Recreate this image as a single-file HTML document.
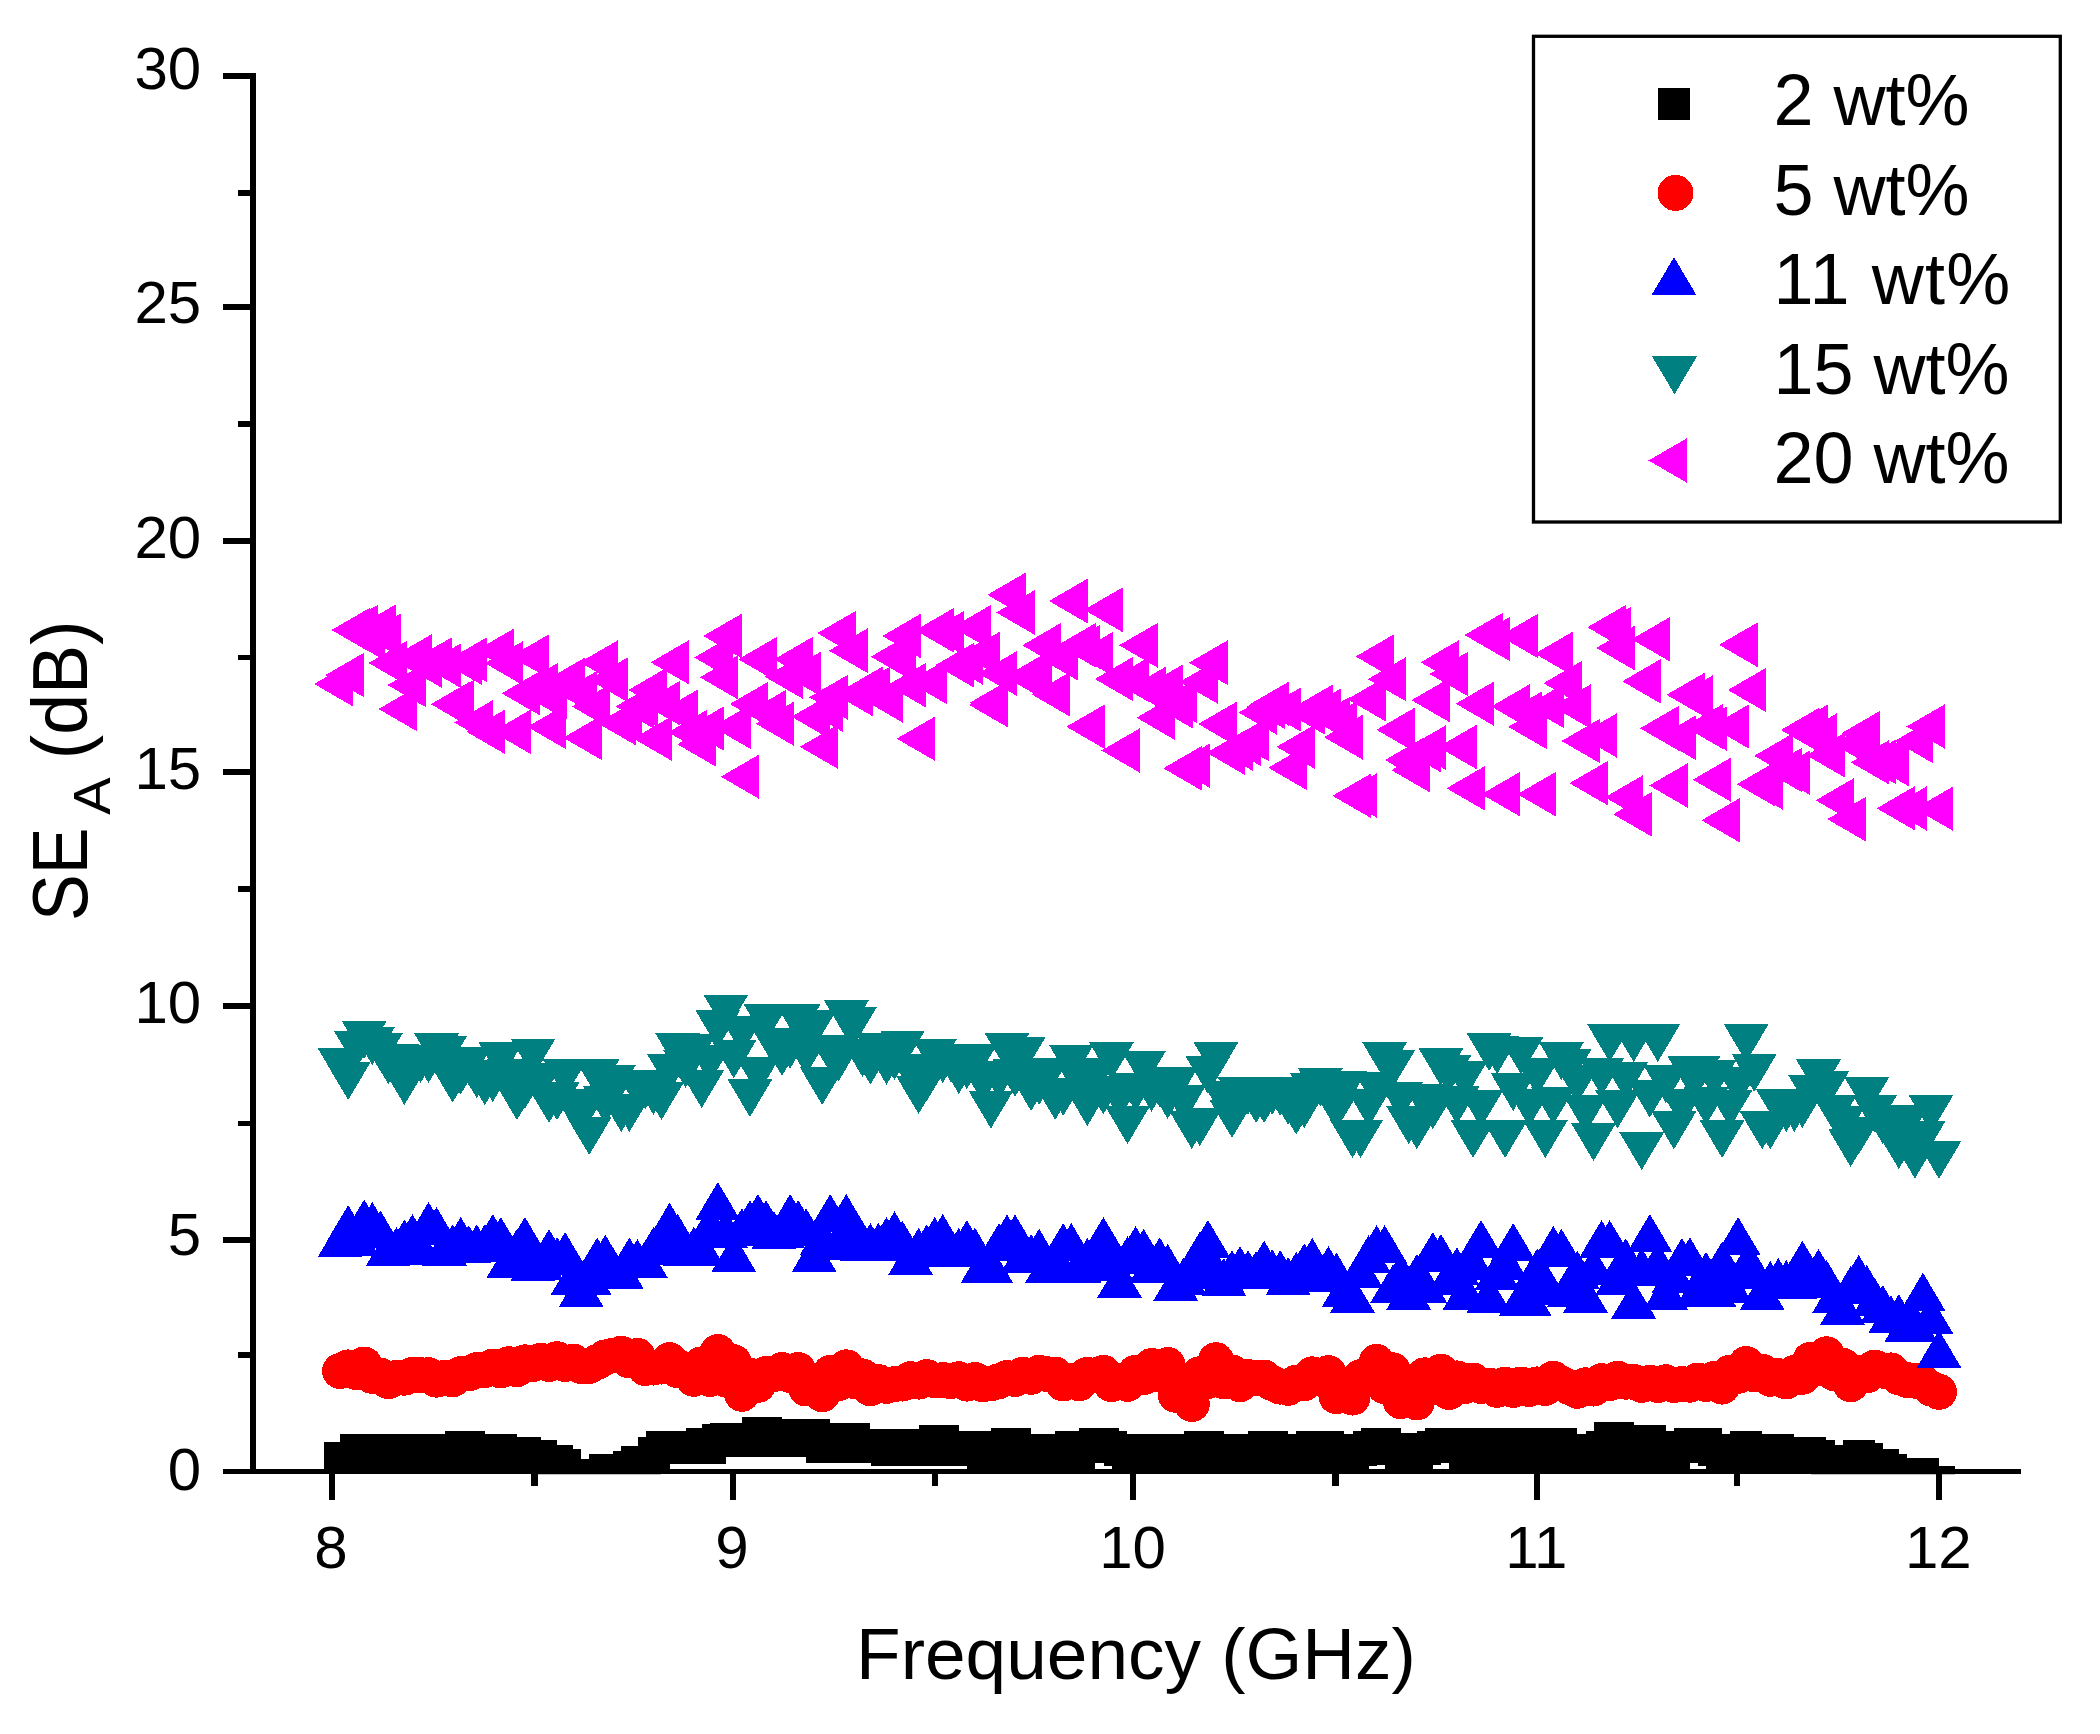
<!DOCTYPE html>
<html lang="en"><head><meta charset="utf-8"><title>SEA vs Frequency</title>
<style>
html,body{margin:0;padding:0;background:#fff}
body{width:2100px;height:1734px;overflow:hidden}
svg{display:block}
text{font-family:"Liberation Sans",Arial,sans-serif;fill:#000}
.tk{font-size:60px}
.lg{font-size:72px}
</style></head>
<body>
<svg width="2100" height="1734" viewBox="0 0 2100 1734">
<rect width="2100" height="1734" fill="#fff"/>
<g fill="#000" shape-rendering="crispEdges">
<rect x="250" y="73" width="6" height="1401.3"/>
<rect x="223.3" y="1468.6" width="1797.2" height="5.7"/>
<rect x="223.3" y="1237.2" width="27" height="5.7"/>
<rect x="223.3" y="1003" width="27" height="5.7"/>
<rect x="223.3" y="769.1" width="27" height="5.7"/>
<rect x="223.3" y="538.1" width="27" height="5.7"/>
<rect x="223.3" y="304" width="27" height="5.7"/>
<rect x="223.3" y="73.1" width="27" height="5.7"/>
<rect x="238" y="1352" width="12.5" height="5.7"/>
<rect x="238" y="1120.7" width="12.5" height="5.7"/>
<rect x="238" y="886.2" width="12.5" height="5.7"/>
<rect x="238" y="654.6" width="12.5" height="5.7"/>
<rect x="238" y="421.1" width="12.5" height="5.7"/>
<rect x="238" y="189.8" width="12.5" height="5.7"/>
<rect x="328.6" y="1474" width="6.2" height="25.8"/>
<rect x="729.6" y="1474" width="6.2" height="25.8"/>
<rect x="1130.2" y="1474" width="6.2" height="25.8"/>
<rect x="1533.9" y="1474" width="6.2" height="25.8"/>
<rect x="1935.9" y="1474" width="6.2" height="25.8"/>
<rect x="531.4" y="1474" width="6.2" height="11.5"/>
<rect x="931.9" y="1474" width="6.2" height="11.5"/>
<rect x="1332.4" y="1474" width="6.2" height="11.5"/>
<rect x="1733.9" y="1474" width="6.2" height="11.5"/>
</g>
<g class="tk" text-anchor="end">
<text x="201.2" y="1489.6">0</text>
<text x="201.2" y="1254.6">5</text>
<text x="201.2" y="1023.3">10</text>
<text x="201.2" y="788.9">15</text>
<text x="201.2" y="557.5">20</text>
<text x="201.2" y="323.2">25</text>
<text x="201.2" y="88.9">30</text>
</g>
<g class="tk" text-anchor="middle">
<text x="331" y="1567.8">8</text>
<text x="732" y="1567.8">9</text>
<text x="1132.6" y="1567.8">10</text>
<text x="1536.3" y="1567.8">11</text>
<text x="1938.3" y="1567.8">12</text>
</g>
<text x="1136" y="1678.8" font-size="73" text-anchor="middle">Frequency (GHz)</text>
<g transform="translate(86.7 921.1) rotate(-90)"><text transform="scale(.91 1)" x="0" y="0" font-size="77">SE</text><text transform="translate(106.4 23.5) scale(1.08 1)" font-size="52">A</text><text transform="translate(161.8 0) scale(.954 1)" font-size="77">(dB)</text></g>
<defs><clipPath id="plot"><rect x="256" y="60" width="1800" height="1414.3"/></clipPath></defs>
<g shape-rendering="crispEdges" clip-path="url(#plot)">
<path fill="#000" d="M324.1 1442.4h32v32h-32zM332.2 1442.4h32v32h-32zM340.2 1434h32v32h-32zM348.2 1434h32v32h-32zM356.3 1439h32v32h-32zM364.3 1434h32v32h-32zM372.3 1439h32v32h-32zM380.4 1434h32v32h-32zM388.4 1439h32v32h-32zM396.4 1434h32v32h-32zM404.5 1439h32v32h-32zM412.5 1434h32v32h-32zM420.5 1439h32v32h-32zM428.6 1434h32v32h-32zM436.6 1439h32v32h-32zM444.7 1430.6h32v32h-32zM452.7 1430.6h32v32h-32zM460.7 1433.6h32v32h-32zM468.8 1439h32v32h-32zM476.8 1433.6h32v32h-32zM484.8 1433.6h32v32h-32zM492.9 1436.6h32v32h-32zM500.9 1439h32v32h-32zM508.9 1436.6h32v32h-32zM517 1440h32v32h-32zM525 1440h32v32h-32zM533 1445h32v32h-32zM541.1 1445h32v32h-32zM549.1 1449h32v32h-32zM557.1 1459h32v32h-32zM565.2 1459h32v32h-32zM573.2 1459h32v32h-32zM581.2 1459h32v32h-32zM589.3 1454.4h32v32h-32zM597.3 1454.4h32v32h-32zM605.3 1454.4h32v32h-32zM613.4 1451h32v32h-32zM621.4 1445.6h32v32h-32zM629.4 1445.6h32v32h-32zM637.5 1437h32v32h-32zM645.5 1430.6h32v32h-32zM653.5 1430.6h32v32h-32zM661.6 1432h32v32h-32zM669.6 1430.6h32v32h-32zM677.7 1432h32v32h-32zM685.7 1428h32v32h-32zM693.7 1432h32v32h-32zM701.8 1424h32v32h-32zM709.8 1422.6h32v32h-32zM717.8 1422.6h32v32h-32zM725.9 1425h32v32h-32zM733.9 1422.6h32v32h-32zM741.9 1416.6h32v32h-32zM750 1416.6h32v32h-32zM758 1425h32v32h-32zM766 1419h32v32h-32zM774.1 1425h32v32h-32zM782.1 1419h32v32h-32zM790.1 1425h32v32h-32zM798.2 1419h32v32h-32zM806.2 1431h32v32h-32zM814.2 1422.6h32v32h-32zM822.3 1431h32v32h-32zM830.3 1422.6h32v32h-32zM838.3 1422.6h32v32h-32zM846.4 1429h32v32h-32zM854.4 1431h32v32h-32zM862.4 1429h32v32h-32zM870.5 1433.8h32v32h-32zM878.5 1429h32v32h-32zM886.5 1433.8h32v32h-32zM894.6 1429h32v32h-32zM902.6 1433.8h32v32h-32zM910.7 1429h32v32h-32zM918.7 1425h32v32h-32zM926.7 1425h32v32h-32zM934.8 1433.8h32v32h-32zM942.8 1430.6h32v32h-32zM950.8 1433.8h32v32h-32zM958.9 1430.6h32v32h-32zM966.9 1439h32v32h-32zM974.9 1430.6h32v32h-32zM983 1439h32v32h-32zM991 1428h32v32h-32zM999 1428h32v32h-32zM1007.1 1434h32v32h-32zM1015.1 1439h32v32h-32zM1023.1 1434h32v32h-32zM1031.2 1439h32v32h-32zM1039.2 1434h32v32h-32zM1047.2 1439h32v32h-32zM1055.3 1430.6h32v32h-32zM1063.3 1439h32v32h-32zM1071.3 1430.6h32v32h-32zM1079.4 1428h32v32h-32zM1087.4 1428h32v32h-32zM1095.4 1430.6h32v32h-32zM1103.5 1434h32v32h-32zM1111.5 1439h32v32h-32zM1119.6 1434h32v32h-32zM1127.6 1439h32v32h-32zM1135.6 1434h32v32h-32zM1143.7 1439h32v32h-32zM1151.7 1434h32v32h-32zM1159.7 1439h32v32h-32zM1167.8 1434h32v32h-32zM1175.8 1439h32v32h-32zM1183.8 1430.6h32v32h-32zM1191.9 1430.6h32v32h-32zM1199.9 1434h32v32h-32zM1207.9 1439h32v32h-32zM1216 1434h32v32h-32zM1224 1439h32v32h-32zM1232 1434h32v32h-32zM1240.1 1439h32v32h-32zM1248.1 1430.6h32v32h-32zM1256.1 1430.6h32v32h-32zM1264.2 1434h32v32h-32zM1272.2 1439h32v32h-32zM1280.2 1434h32v32h-32zM1288.3 1439h32v32h-32zM1296.3 1430.6h32v32h-32zM1304.3 1439h32v32h-32zM1312.4 1430.6h32v32h-32zM1320.4 1439h32v32h-32zM1328.4 1433.6h32v32h-32zM1336.5 1439h32v32h-32zM1344.5 1433.6h32v32h-32zM1352.6 1430.6h32v32h-32zM1360.6 1428h32v32h-32zM1368.6 1428h32v32h-32zM1376.7 1433h32v32h-32zM1384.7 1439h32v32h-32zM1392.7 1433h32v32h-32zM1400.8 1439h32v32h-32zM1408.8 1433h32v32h-32zM1416.8 1430.6h32v32h-32zM1424.9 1428h32v32h-32zM1432.9 1428h32v32h-32zM1440.9 1430.6h32v32h-32zM1449 1439h32v32h-32zM1457 1430.6h32v32h-32zM1465 1428h32v32h-32zM1473.1 1428h32v32h-32zM1481.1 1439h32v32h-32zM1489.1 1428h32v32h-32zM1497.2 1439h32v32h-32zM1505.2 1428h32v32h-32zM1513.2 1439h32v32h-32zM1521.3 1428h32v32h-32zM1529.3 1439h32v32h-32zM1537.3 1428h32v32h-32zM1545.4 1428h32v32h-32zM1553.4 1434h32v32h-32zM1561.4 1439h32v32h-32zM1569.5 1434h32v32h-32zM1577.5 1439h32v32h-32zM1585.6 1430.6h32v32h-32zM1593.6 1422.4h32v32h-32zM1601.6 1422.4h32v32h-32zM1609.7 1439h32v32h-32zM1617.7 1430h32v32h-32zM1625.7 1425h32v32h-32zM1633.8 1425h32v32h-32zM1641.8 1439h32v32h-32zM1649.8 1430.6h32v32h-32zM1657.9 1439h32v32h-32zM1665.9 1430.6h32v32h-32zM1673.9 1428h32v32h-32zM1682 1428h32v32h-32zM1690 1428h32v32h-32zM1698 1434h32v32h-32zM1706.1 1439h32v32h-32zM1714.1 1434h32v32h-32zM1722.1 1439h32v32h-32zM1730.2 1430.6h32v32h-32zM1738.2 1439h32v32h-32zM1746.2 1434h32v32h-32zM1754.3 1439h32v32h-32zM1762.3 1434h32v32h-32zM1770.3 1439h32v32h-32zM1778.4 1437h32v32h-32zM1786.4 1439h32v32h-32zM1794.4 1437h32v32h-32zM1802.5 1440h32v32h-32zM1810.5 1445h32v32h-32zM1818.6 1445h32v32h-32zM1826.6 1445h32v32h-32zM1834.6 1445h32v32h-32zM1842.7 1439.8h32v32h-32zM1850.7 1442.6h32v32h-32zM1858.7 1449h32v32h-32zM1866.8 1449h32v32h-32zM1874.8 1454h32v32h-32zM1882.8 1457.5h32v32h-32zM1890.9 1457.5h32v32h-32zM1898.9 1457.5h32v32h-32zM1906.9 1457.5h32v32h-32zM1915 1466h32v32h-32zM1923 1466h32v32h-32z"/>
<path fill="#f00" d="M322.1 1371a18 18 0 1 0 36 0a18 18 0 1 0 -36 0zM330.2 1367.4a18 18 0 1 0 36 0a18 18 0 1 0 -36 0zM338.2 1372.2a18 18 0 1 0 36 0a18 18 0 1 0 -36 0zM346.2 1364.5a18 18 0 1 0 36 0a18 18 0 1 0 -36 0zM354.3 1375.9a18 18 0 1 0 36 0a18 18 0 1 0 -36 0zM362.3 1375.5a18 18 0 1 0 36 0a18 18 0 1 0 -36 0zM370.3 1381.2a18 18 0 1 0 36 0a18 18 0 1 0 -36 0zM378.4 1377.9a18 18 0 1 0 36 0a18 18 0 1 0 -36 0zM386.4 1377.7a18 18 0 1 0 36 0a18 18 0 1 0 -36 0zM394.4 1374.9a18 18 0 1 0 36 0a18 18 0 1 0 -36 0zM402.5 1375.2a18 18 0 1 0 36 0a18 18 0 1 0 -36 0zM410.5 1375.1a18 18 0 1 0 36 0a18 18 0 1 0 -36 0zM418.5 1379.7a18 18 0 1 0 36 0a18 18 0 1 0 -36 0zM426.6 1377.9a18 18 0 1 0 36 0a18 18 0 1 0 -36 0zM434.6 1379.4a18 18 0 1 0 36 0a18 18 0 1 0 -36 0zM442.7 1374.1a18 18 0 1 0 36 0a18 18 0 1 0 -36 0zM450.7 1373.5a18 18 0 1 0 36 0a18 18 0 1 0 -36 0zM458.7 1370a18 18 0 1 0 36 0a18 18 0 1 0 -36 0zM466.8 1370.1a18 18 0 1 0 36 0a18 18 0 1 0 -36 0zM474.8 1366.5a18 18 0 1 0 36 0a18 18 0 1 0 -36 0zM482.8 1370.5a18 18 0 1 0 36 0a18 18 0 1 0 -36 0zM490.9 1364.2a18 18 0 1 0 36 0a18 18 0 1 0 -36 0zM498.9 1369.2a18 18 0 1 0 36 0a18 18 0 1 0 -36 0zM506.9 1362.3a18 18 0 1 0 36 0a18 18 0 1 0 -36 0zM515 1364a18 18 0 1 0 36 0a18 18 0 1 0 -36 0zM523 1360.7a18 18 0 1 0 36 0a18 18 0 1 0 -36 0zM531 1364a18 18 0 1 0 36 0a18 18 0 1 0 -36 0zM539.1 1359.2a18 18 0 1 0 36 0a18 18 0 1 0 -36 0zM547.1 1364a18 18 0 1 0 36 0a18 18 0 1 0 -36 0zM555.1 1361.6a18 18 0 1 0 36 0a18 18 0 1 0 -36 0zM563.2 1366a18 18 0 1 0 36 0a18 18 0 1 0 -36 0zM571.2 1366a18 18 0 1 0 36 0a18 18 0 1 0 -36 0zM579.2 1362a18 18 0 1 0 36 0a18 18 0 1 0 -36 0zM587.3 1357.4a18 18 0 1 0 36 0a18 18 0 1 0 -36 0zM595.3 1355.5a18 18 0 1 0 36 0a18 18 0 1 0 -36 0zM603.3 1353.7a18 18 0 1 0 36 0a18 18 0 1 0 -36 0zM611.4 1360.5a18 18 0 1 0 36 0a18 18 0 1 0 -36 0zM619.4 1355.9a18 18 0 1 0 36 0a18 18 0 1 0 -36 0zM627.4 1368a18 18 0 1 0 36 0a18 18 0 1 0 -36 0zM635.5 1367.5a18 18 0 1 0 36 0a18 18 0 1 0 -36 0zM643.5 1366.6a18 18 0 1 0 36 0a18 18 0 1 0 -36 0zM651.5 1360.1a18 18 0 1 0 36 0a18 18 0 1 0 -36 0zM659.6 1370.1a18 18 0 1 0 36 0a18 18 0 1 0 -36 0zM667.6 1369.4a18 18 0 1 0 36 0a18 18 0 1 0 -36 0zM675.7 1378.8a18 18 0 1 0 36 0a18 18 0 1 0 -36 0zM683.7 1364.3a18 18 0 1 0 36 0a18 18 0 1 0 -36 0zM691.7 1379a18 18 0 1 0 36 0a18 18 0 1 0 -36 0zM699.8 1352a18 18 0 1 0 36 0a18 18 0 1 0 -36 0zM707.8 1379.5a18 18 0 1 0 36 0a18 18 0 1 0 -36 0zM715.8 1362.2a18 18 0 1 0 36 0a18 18 0 1 0 -36 0zM723.9 1393.8a18 18 0 1 0 36 0a18 18 0 1 0 -36 0zM731.9 1375.8a18 18 0 1 0 36 0a18 18 0 1 0 -36 0zM739.9 1384.9a18 18 0 1 0 36 0a18 18 0 1 0 -36 0zM748 1374a18 18 0 1 0 36 0a18 18 0 1 0 -36 0zM756 1374a18 18 0 1 0 36 0a18 18 0 1 0 -36 0zM764 1370.1a18 18 0 1 0 36 0a18 18 0 1 0 -36 0zM772.1 1374.9a18 18 0 1 0 36 0a18 18 0 1 0 -36 0zM780.1 1370.1a18 18 0 1 0 36 0a18 18 0 1 0 -36 0zM788.1 1388.5a18 18 0 1 0 36 0a18 18 0 1 0 -36 0zM796.2 1385.3a18 18 0 1 0 36 0a18 18 0 1 0 -36 0zM804.2 1394.3a18 18 0 1 0 36 0a18 18 0 1 0 -36 0zM812.2 1373.1a18 18 0 1 0 36 0a18 18 0 1 0 -36 0zM820.3 1383.3a18 18 0 1 0 36 0a18 18 0 1 0 -36 0zM828.3 1367.3a18 18 0 1 0 36 0a18 18 0 1 0 -36 0zM836.3 1381.2a18 18 0 1 0 36 0a18 18 0 1 0 -36 0zM844.4 1376.4a18 18 0 1 0 36 0a18 18 0 1 0 -36 0zM852.4 1388.3a18 18 0 1 0 36 0a18 18 0 1 0 -36 0zM860.4 1382a18 18 0 1 0 36 0a18 18 0 1 0 -36 0zM868.5 1385.9a18 18 0 1 0 36 0a18 18 0 1 0 -36 0zM876.5 1384.1a18 18 0 1 0 36 0a18 18 0 1 0 -36 0zM884.5 1383.6a18 18 0 1 0 36 0a18 18 0 1 0 -36 0zM892.6 1379.2a18 18 0 1 0 36 0a18 18 0 1 0 -36 0zM900.6 1381.6a18 18 0 1 0 36 0a18 18 0 1 0 -36 0zM908.7 1377.1a18 18 0 1 0 36 0a18 18 0 1 0 -36 0zM916.7 1380.3a18 18 0 1 0 36 0a18 18 0 1 0 -36 0zM924.7 1380a18 18 0 1 0 36 0a18 18 0 1 0 -36 0zM932.8 1381.1a18 18 0 1 0 36 0a18 18 0 1 0 -36 0zM940.8 1379.2a18 18 0 1 0 36 0a18 18 0 1 0 -36 0zM948.8 1383.6a18 18 0 1 0 36 0a18 18 0 1 0 -36 0zM956.9 1379.9a18 18 0 1 0 36 0a18 18 0 1 0 -36 0zM964.9 1384.2a18 18 0 1 0 36 0a18 18 0 1 0 -36 0zM972.9 1383.4a18 18 0 1 0 36 0a18 18 0 1 0 -36 0zM981 1381.2a18 18 0 1 0 36 0a18 18 0 1 0 -36 0zM989 1378a18 18 0 1 0 36 0a18 18 0 1 0 -36 0zM997 1378.9a18 18 0 1 0 36 0a18 18 0 1 0 -36 0zM1005.1 1374.6a18 18 0 1 0 36 0a18 18 0 1 0 -36 0zM1013.1 1376.8a18 18 0 1 0 36 0a18 18 0 1 0 -36 0zM1021.1 1372.8a18 18 0 1 0 36 0a18 18 0 1 0 -36 0zM1029.2 1374.2a18 18 0 1 0 36 0a18 18 0 1 0 -36 0zM1037.2 1374.6a18 18 0 1 0 36 0a18 18 0 1 0 -36 0zM1045.2 1383.5a18 18 0 1 0 36 0a18 18 0 1 0 -36 0zM1053.3 1380.6a18 18 0 1 0 36 0a18 18 0 1 0 -36 0zM1061.3 1383.3a18 18 0 1 0 36 0a18 18 0 1 0 -36 0zM1069.3 1374.8a18 18 0 1 0 36 0a18 18 0 1 0 -36 0zM1077.4 1375.3a18 18 0 1 0 36 0a18 18 0 1 0 -36 0zM1085.4 1372.9a18 18 0 1 0 36 0a18 18 0 1 0 -36 0zM1093.4 1384.2a18 18 0 1 0 36 0a18 18 0 1 0 -36 0zM1101.5 1380.7a18 18 0 1 0 36 0a18 18 0 1 0 -36 0zM1109.5 1383.9a18 18 0 1 0 36 0a18 18 0 1 0 -36 0zM1117.6 1372.7a18 18 0 1 0 36 0a18 18 0 1 0 -36 0zM1125.6 1377.2a18 18 0 1 0 36 0a18 18 0 1 0 -36 0zM1133.6 1366a18 18 0 1 0 36 0a18 18 0 1 0 -36 0zM1141.7 1374.4a18 18 0 1 0 36 0a18 18 0 1 0 -36 0zM1149.7 1365a18 18 0 1 0 36 0a18 18 0 1 0 -36 0zM1157.7 1394.8a18 18 0 1 0 36 0a18 18 0 1 0 -36 0zM1165.8 1384.7a18 18 0 1 0 36 0a18 18 0 1 0 -36 0zM1173.8 1404a18 18 0 1 0 36 0a18 18 0 1 0 -36 0zM1181.8 1374.2a18 18 0 1 0 36 0a18 18 0 1 0 -36 0zM1189.9 1381a18 18 0 1 0 36 0a18 18 0 1 0 -36 0zM1197.9 1360.2a18 18 0 1 0 36 0a18 18 0 1 0 -36 0zM1205.9 1381.2a18 18 0 1 0 36 0a18 18 0 1 0 -36 0zM1214 1372.5a18 18 0 1 0 36 0a18 18 0 1 0 -36 0zM1222 1384.2a18 18 0 1 0 36 0a18 18 0 1 0 -36 0zM1230 1377a18 18 0 1 0 36 0a18 18 0 1 0 -36 0zM1238.1 1378a18 18 0 1 0 36 0a18 18 0 1 0 -36 0zM1246.1 1377.5a18 18 0 1 0 36 0a18 18 0 1 0 -36 0zM1254.1 1383.1a18 18 0 1 0 36 0a18 18 0 1 0 -36 0zM1262.2 1386.6a18 18 0 1 0 36 0a18 18 0 1 0 -36 0zM1270.2 1387.8a18 18 0 1 0 36 0a18 18 0 1 0 -36 0zM1278.2 1382.7a18 18 0 1 0 36 0a18 18 0 1 0 -36 0zM1286.3 1383.1a18 18 0 1 0 36 0a18 18 0 1 0 -36 0zM1294.3 1374.3a18 18 0 1 0 36 0a18 18 0 1 0 -36 0zM1302.3 1378a18 18 0 1 0 36 0a18 18 0 1 0 -36 0zM1310.4 1373.1a18 18 0 1 0 36 0a18 18 0 1 0 -36 0zM1318.4 1396.2a18 18 0 1 0 36 0a18 18 0 1 0 -36 0zM1326.4 1384.8a18 18 0 1 0 36 0a18 18 0 1 0 -36 0zM1334.5 1397.6a18 18 0 1 0 36 0a18 18 0 1 0 -36 0zM1342.5 1377.1a18 18 0 1 0 36 0a18 18 0 1 0 -36 0zM1350.6 1379a18 18 0 1 0 36 0a18 18 0 1 0 -36 0zM1358.6 1361.9a18 18 0 1 0 36 0a18 18 0 1 0 -36 0zM1366.6 1386.3a18 18 0 1 0 36 0a18 18 0 1 0 -36 0zM1374.7 1370.3a18 18 0 1 0 36 0a18 18 0 1 0 -36 0zM1382.7 1401.1a18 18 0 1 0 36 0a18 18 0 1 0 -36 0zM1390.7 1386.6a18 18 0 1 0 36 0a18 18 0 1 0 -36 0zM1398.8 1402.4a18 18 0 1 0 36 0a18 18 0 1 0 -36 0zM1406.8 1375.3a18 18 0 1 0 36 0a18 18 0 1 0 -36 0zM1414.8 1387.2a18 18 0 1 0 36 0a18 18 0 1 0 -36 0zM1422.9 1371.7a18 18 0 1 0 36 0a18 18 0 1 0 -36 0zM1430.9 1392.1a18 18 0 1 0 36 0a18 18 0 1 0 -36 0zM1438.9 1378.4a18 18 0 1 0 36 0a18 18 0 1 0 -36 0zM1447 1385.9a18 18 0 1 0 36 0a18 18 0 1 0 -36 0zM1455 1380.5a18 18 0 1 0 36 0a18 18 0 1 0 -36 0zM1463 1386.1a18 18 0 1 0 36 0a18 18 0 1 0 -36 0zM1471.1 1385.5a18 18 0 1 0 36 0a18 18 0 1 0 -36 0zM1479.1 1389.8a18 18 0 1 0 36 0a18 18 0 1 0 -36 0zM1487.1 1384.6a18 18 0 1 0 36 0a18 18 0 1 0 -36 0zM1495.2 1389.9a18 18 0 1 0 36 0a18 18 0 1 0 -36 0zM1503.2 1384.5a18 18 0 1 0 36 0a18 18 0 1 0 -36 0zM1511.2 1389a18 18 0 1 0 36 0a18 18 0 1 0 -36 0zM1519.3 1384.4a18 18 0 1 0 36 0a18 18 0 1 0 -36 0zM1527.3 1388a18 18 0 1 0 36 0a18 18 0 1 0 -36 0zM1535.3 1378.7a18 18 0 1 0 36 0a18 18 0 1 0 -36 0zM1543.4 1383.6a18 18 0 1 0 36 0a18 18 0 1 0 -36 0zM1551.4 1387.2a18 18 0 1 0 36 0a18 18 0 1 0 -36 0zM1559.4 1390.8a18 18 0 1 0 36 0a18 18 0 1 0 -36 0zM1567.5 1385.3a18 18 0 1 0 36 0a18 18 0 1 0 -36 0zM1575.5 1388.5a18 18 0 1 0 36 0a18 18 0 1 0 -36 0zM1583.6 1381.1a18 18 0 1 0 36 0a18 18 0 1 0 -36 0zM1591.6 1383.1a18 18 0 1 0 36 0a18 18 0 1 0 -36 0zM1599.6 1378.7a18 18 0 1 0 36 0a18 18 0 1 0 -36 0zM1607.7 1381.7a18 18 0 1 0 36 0a18 18 0 1 0 -36 0zM1615.7 1381.9a18 18 0 1 0 36 0a18 18 0 1 0 -36 0zM1623.7 1384.9a18 18 0 1 0 36 0a18 18 0 1 0 -36 0zM1631.8 1382.7a18 18 0 1 0 36 0a18 18 0 1 0 -36 0zM1639.8 1385a18 18 0 1 0 36 0a18 18 0 1 0 -36 0zM1647.8 1382.2a18 18 0 1 0 36 0a18 18 0 1 0 -36 0zM1655.9 1385a18 18 0 1 0 36 0a18 18 0 1 0 -36 0zM1663.9 1384a18 18 0 1 0 36 0a18 18 0 1 0 -36 0zM1671.9 1384.7a18 18 0 1 0 36 0a18 18 0 1 0 -36 0zM1680 1380.5a18 18 0 1 0 36 0a18 18 0 1 0 -36 0zM1688 1384a18 18 0 1 0 36 0a18 18 0 1 0 -36 0zM1696 1379a18 18 0 1 0 36 0a18 18 0 1 0 -36 0zM1704.1 1386.6a18 18 0 1 0 36 0a18 18 0 1 0 -36 0zM1712.1 1372.6a18 18 0 1 0 36 0a18 18 0 1 0 -36 0zM1720.1 1375.8a18 18 0 1 0 36 0a18 18 0 1 0 -36 0zM1728.2 1364.1a18 18 0 1 0 36 0a18 18 0 1 0 -36 0zM1736.2 1374.5a18 18 0 1 0 36 0a18 18 0 1 0 -36 0zM1744.2 1371.8a18 18 0 1 0 36 0a18 18 0 1 0 -36 0zM1752.3 1378.8a18 18 0 1 0 36 0a18 18 0 1 0 -36 0zM1760.3 1376a18 18 0 1 0 36 0a18 18 0 1 0 -36 0zM1768.3 1381.5a18 18 0 1 0 36 0a18 18 0 1 0 -36 0zM1776.4 1372.9a18 18 0 1 0 36 0a18 18 0 1 0 -36 0zM1784.4 1376.8a18 18 0 1 0 36 0a18 18 0 1 0 -36 0zM1792.4 1359.8a18 18 0 1 0 36 0a18 18 0 1 0 -36 0zM1800.5 1367.9a18 18 0 1 0 36 0a18 18 0 1 0 -36 0zM1808.5 1354.3a18 18 0 1 0 36 0a18 18 0 1 0 -36 0zM1816.6 1373.5a18 18 0 1 0 36 0a18 18 0 1 0 -36 0zM1824.6 1365.7a18 18 0 1 0 36 0a18 18 0 1 0 -36 0zM1832.6 1384.3a18 18 0 1 0 36 0a18 18 0 1 0 -36 0zM1840.7 1373a18 18 0 1 0 36 0a18 18 0 1 0 -36 0zM1848.7 1375.5a18 18 0 1 0 36 0a18 18 0 1 0 -36 0zM1856.7 1367.5a18 18 0 1 0 36 0a18 18 0 1 0 -36 0zM1864.8 1370.7a18 18 0 1 0 36 0a18 18 0 1 0 -36 0zM1872.8 1370.4a18 18 0 1 0 36 0a18 18 0 1 0 -36 0zM1880.8 1377.2a18 18 0 1 0 36 0a18 18 0 1 0 -36 0zM1888.9 1380.1a18 18 0 1 0 36 0a18 18 0 1 0 -36 0zM1896.9 1380.7a18 18 0 1 0 36 0a18 18 0 1 0 -36 0zM1904.9 1382.7a18 18 0 1 0 36 0a18 18 0 1 0 -36 0zM1913 1388.5a18 18 0 1 0 36 0a18 18 0 1 0 -36 0zM1921 1391.8a18 18 0 1 0 36 0a18 18 0 1 0 -36 0z"/>
<path fill="#00f" d="M340.1 1219.4l22.5 38h-45zM348.2 1205l22.5 38h-45zM356.2 1217.5l22.5 38h-45zM364.2 1199.4l22.5 38h-45zM372.3 1202l22.5 38h-45zM380.3 1210.4l22.5 38h-45zM388.3 1228l22.5 38h-45zM396.4 1227l22.5 38h-45zM404.4 1219.5l22.5 38h-45zM412.4 1214l22.5 38h-45zM420.5 1227l22.5 38h-45zM428.5 1202l22.5 38h-45zM436.5 1207l22.5 38h-45zM444.6 1228l22.5 38h-45zM452.6 1224.4l22.5 38h-45zM460.7 1217l22.5 38h-45zM468.7 1225.4l22.5 38h-45zM476.7 1224.4l22.5 38h-45zM484.8 1224.1l22.5 38h-45zM492.8 1214l22.5 38h-45zM500.8 1217l22.5 38h-45zM508.9 1240l22.5 38h-45zM516.9 1229l22.5 38h-45zM524.9 1217l22.5 38h-45zM533 1243l22.5 38h-45zM541 1242l22.5 38h-45zM549 1229l22.5 38h-45zM557.1 1236.9l22.5 38h-45zM565.1 1232l22.5 38h-45zM573.1 1257l22.5 38h-45zM581.2 1269l22.5 38h-45zM589.2 1257l22.5 38h-45zM597.2 1237.4l22.5 38h-45zM605.3 1234.7l22.5 38h-45zM613.3 1247.8l22.5 38h-45zM621.3 1251l22.5 38h-45zM629.4 1237.4l22.5 38h-45zM637.4 1239l22.5 38h-45zM645.4 1240l22.5 38h-45zM653.5 1227l22.5 38h-45zM661.5 1216.6l22.5 38h-45zM669.5 1202.7l22.5 38h-45zM677.6 1213.9l22.5 38h-45zM685.6 1228l22.5 38h-45zM693.7 1227l22.5 38h-45zM701.7 1228l22.5 38h-45zM709.7 1205.4l22.5 38h-45zM717.8 1182l22.5 38h-45zM725.8 1210.4l22.5 38h-45zM733.8 1234l22.5 38h-45zM741.9 1208.3l22.5 38h-45zM749.9 1200.2l22.5 38h-45zM757.9 1194l22.5 38h-45zM766 1200l22.5 38h-45zM774 1211l22.5 38h-45zM782 1210l22.5 38h-45zM790.1 1194l22.5 38h-45zM798.1 1200l22.5 38h-45zM806.1 1208.2l22.5 38h-45zM814.2 1234l22.5 38h-45zM822.2 1217l22.5 38h-45zM830.2 1194l22.5 38h-45zM838.3 1221.7l22.5 38h-45zM846.3 1194l22.5 38h-45zM854.3 1215.1l22.5 38h-45zM862.4 1222.7l22.5 38h-45zM870.4 1223l22.5 38h-45zM878.4 1222.7l22.5 38h-45zM886.5 1217l22.5 38h-45zM894.5 1211.4l22.5 38h-45zM902.5 1220.8l22.5 38h-45zM910.6 1237l22.5 38h-45zM918.6 1227.7l22.5 38h-45zM926.7 1224.4l22.5 38h-45zM934.7 1217l22.5 38h-45zM942.7 1214l22.5 38h-45zM950.8 1228.7l22.5 38h-45zM958.8 1227.7l22.5 38h-45zM966.8 1220l22.5 38h-45zM974.9 1227.7l22.5 38h-45zM982.9 1245.4l22.5 38h-45zM990.9 1245.4l22.5 38h-45zM999 1223l22.5 38h-45zM1007 1214.4l22.5 38h-45zM1015 1214.4l22.5 38h-45zM1023.1 1235l22.5 38h-45zM1031.1 1234l22.5 38h-45zM1039.1 1228.7l22.5 38h-45zM1047.2 1245.4l22.5 38h-45zM1055.2 1238.6l22.5 38h-45zM1063.2 1223l22.5 38h-45zM1071.3 1223l22.5 38h-45zM1079.3 1245.4l22.5 38h-45zM1087.3 1237.8l22.5 38h-45zM1095.4 1233.9l22.5 38h-45zM1103.4 1217l22.5 38h-45zM1111.4 1243.4l22.5 38h-45zM1119.5 1260l22.5 38h-45zM1127.5 1236.3l22.5 38h-45zM1135.6 1226l22.5 38h-45zM1143.6 1228.7l22.5 38h-45zM1151.6 1245l22.5 38h-45zM1159.7 1237.4l22.5 38h-45zM1167.7 1244l22.5 38h-45zM1175.7 1263l22.5 38h-45zM1183.8 1257l22.5 38h-45zM1191.8 1245.7l22.5 38h-45zM1199.8 1231.7l22.5 38h-45zM1207.9 1220l22.5 38h-45zM1215.9 1251.2l22.5 38h-45zM1223.9 1258l22.5 38h-45zM1232 1250l22.5 38h-45zM1240 1246l22.5 38h-45zM1248 1250l22.5 38h-45zM1256.1 1251l22.5 38h-45zM1264.1 1240.7l22.5 38h-45zM1272.1 1249l22.5 38h-45zM1280.2 1250l22.5 38h-45zM1288.2 1257l22.5 38h-45zM1296.2 1251.7l22.5 38h-45zM1304.3 1243.4l22.5 38h-45zM1312.3 1238l22.5 38h-45zM1320.3 1254l22.5 38h-45zM1328.4 1246l22.5 38h-45zM1336.4 1252.5l22.5 38h-45zM1344.4 1268.7l22.5 38h-45zM1352.5 1275l22.5 38h-45zM1360.5 1249.9l22.5 38h-45zM1368.6 1235.2l22.5 38h-45zM1376.6 1225l22.5 38h-45zM1384.6 1225l22.5 38h-45zM1392.7 1265l22.5 38h-45zM1400.7 1253.2l22.5 38h-45zM1408.7 1272l22.5 38h-45zM1416.8 1254l22.5 38h-45zM1424.8 1265l22.5 38h-45zM1432.8 1232l22.5 38h-45zM1440.9 1234l22.5 38h-45zM1448.9 1257.2l22.5 38h-45zM1456.9 1247.3l22.5 38h-45zM1465 1272l22.5 38h-45zM1473 1242.4l22.5 38h-45zM1481 1220l22.5 38h-45zM1489.1 1275l22.5 38h-45zM1497.1 1251.8l22.5 38h-45zM1505.1 1241.5l22.5 38h-45zM1513.2 1223l22.5 38h-45zM1521.2 1278l22.5 38h-45zM1529.2 1278l22.5 38h-45zM1537.3 1248.3l22.5 38h-45zM1545.3 1267l22.5 38h-45zM1553.3 1226l22.5 38h-45zM1561.4 1228.7l22.5 38h-45zM1569.4 1269l22.5 38h-45zM1577.4 1250.9l22.5 38h-45zM1585.5 1275l22.5 38h-45zM1593.5 1247.1l22.5 38h-45zM1601.6 1220l22.5 38h-45zM1609.6 1220l22.5 38h-45zM1617.6 1257.3l22.5 38h-45zM1625.7 1238.4l22.5 38h-45zM1633.7 1280.7l22.5 38h-45zM1641.7 1248l22.5 38h-45zM1649.8 1214l22.5 38h-45zM1657.8 1242.4l22.5 38h-45zM1665.8 1272l22.5 38h-45zM1673.9 1255.2l22.5 38h-45zM1681.9 1238l22.5 38h-45zM1689.9 1237.4l22.5 38h-45zM1698 1269l22.5 38h-45zM1706 1251.7l22.5 38h-45zM1714 1269l22.5 38h-45zM1722.1 1241.5l22.5 38h-45zM1730.1 1265.1l22.5 38h-45zM1738.1 1217l22.5 38h-45zM1746.2 1245.4l22.5 38h-45zM1754.2 1251.1l22.5 38h-45zM1762.2 1272l22.5 38h-45zM1770.3 1261l22.5 38h-45zM1778.3 1258l22.5 38h-45zM1786.3 1260l22.5 38h-45zM1794.4 1261l22.5 38h-45zM1802.4 1240.7l22.5 38h-45zM1810.4 1260l22.5 38h-45zM1818.5 1249l22.5 38h-45zM1826.5 1260l22.5 38h-45zM1834.6 1275l22.5 38h-45zM1842.6 1286.7l22.5 38h-45zM1850.6 1266.2l22.5 38h-45zM1858.7 1255l22.5 38h-45zM1866.7 1265l22.5 38h-45zM1874.7 1278l22.5 38h-45zM1882.8 1285.2l22.5 38h-45zM1890.8 1295l22.5 38h-45zM1898.8 1294l22.5 38h-45zM1906.9 1304l22.5 38h-45zM1914.9 1304l22.5 38h-45zM1922.9 1272.7l22.5 38h-45zM1931 1296.1l22.5 38h-45zM1939 1330l22.5 38h-45z"/>
<path fill="#008080" d="M340.1 1086l-22.5 -38h45zM348.2 1100l-22.5 -38h45zM356.2 1068.6l-22.5 -38h45zM364.2 1059l-22.5 -38h45zM372.3 1065l-22.5 -38h45zM380.3 1071l-22.5 -38h45zM388.3 1084.2l-22.5 -38h45zM396.4 1082l-22.5 -38h45zM404.4 1105l-22.5 -38h45zM412.4 1083.9l-22.5 -38h45zM420.5 1083l-22.5 -38h45zM428.5 1083l-22.5 -38h45zM436.5 1071l-22.5 -38h45zM444.6 1074l-22.5 -38h45zM452.6 1102.6l-22.5 -38h45zM460.7 1094.5l-22.5 -38h45zM468.7 1085.3l-22.5 -38h45zM476.7 1098.1l-22.5 -38h45zM484.8 1105.3l-22.5 -38h45zM492.8 1102l-22.5 -38h45zM500.8 1080l-22.5 -38h45zM508.9 1096.6l-22.5 -38h45zM516.9 1120l-22.5 -38h45zM524.9 1108.9l-22.5 -38h45zM533 1076.6l-22.5 -38h45zM541 1100.8l-22.5 -38h45zM549 1123l-22.5 -38h45zM557.1 1120.2l-22.5 -38h45zM565.1 1097l-22.5 -38h45zM573.1 1126.8l-22.5 -38h45zM581.2 1135.5l-22.5 -38h45zM589.2 1155l-22.5 -38h45zM597.2 1097l-22.5 -38h45zM605.3 1123.9l-22.5 -38h45zM613.3 1103l-22.5 -38h45zM621.3 1132l-22.5 -38h45zM629.4 1132l-22.5 -38h45zM637.4 1108.3l-22.5 -38h45zM645.4 1109.3l-22.5 -38h45zM653.5 1114.9l-22.5 -38h45zM661.5 1120l-22.5 -38h45zM669.5 1092l-22.5 -38h45zM677.6 1071l-22.5 -38h45zM685.6 1088l-22.5 -38h45zM693.7 1072l-22.5 -38h45zM701.7 1108l-22.5 -38h45zM709.7 1082.6l-22.5 -38h45zM717.8 1048l-22.5 -38h45zM725.8 1032.6l-22.5 -38h45zM733.8 1078.4l-22.5 -38h45zM741.9 1053.9l-22.5 -38h45zM749.9 1117l-22.5 -38h45zM757.9 1094.5l-22.5 -38h45zM766 1042l-22.5 -38h45zM774 1065.8l-22.5 -38h45zM782 1076l-22.5 -38h45zM790.1 1068.6l-22.5 -38h45zM798.1 1042l-22.5 -38h45zM806.1 1074.9l-22.5 -38h45zM814.2 1047.9l-22.5 -38h45zM822.2 1105l-22.5 -38h45zM830.2 1072.6l-22.5 -38h45zM838.3 1081.7l-22.5 -38h45zM846.3 1038l-22.5 -38h45zM854.3 1045l-22.5 -38h45zM862.4 1076.8l-22.5 -38h45zM870.4 1084.6l-22.5 -38h45zM878.4 1070.6l-22.5 -38h45zM886.5 1084.6l-22.5 -38h45zM894.5 1079.9l-22.5 -38h45zM902.5 1068.6l-22.5 -38h45zM910.6 1091.5l-22.5 -38h45zM918.6 1114l-22.5 -38h45zM926.7 1101.2l-22.5 -38h45zM934.7 1076.6l-22.5 -38h45zM942.7 1083l-22.5 -38h45zM950.8 1082l-22.5 -38h45zM958.8 1094l-22.5 -38h45zM966.8 1089.2l-22.5 -38h45zM974.9 1082l-22.5 -38h45zM982.9 1102.4l-22.5 -38h45zM990.9 1128.6l-22.5 -38h45zM999 1098.9l-22.5 -38h45zM1007 1071l-22.5 -38h45zM1015 1096.9l-22.5 -38h45zM1023.1 1075l-22.5 -38h45zM1031.1 1111l-22.5 -38h45zM1039.1 1105l-22.5 -38h45zM1047.2 1096l-22.5 -38h45zM1055.2 1120l-22.5 -38h45zM1063.2 1116l-22.5 -38h45zM1071.3 1082.6l-22.5 -38h45zM1079.3 1101.5l-22.5 -38h45zM1087.3 1126l-22.5 -38h45zM1095.4 1095.5l-22.5 -38h45zM1103.4 1114.4l-22.5 -38h45zM1111.4 1080l-22.5 -38h45zM1119.5 1118.5l-22.5 -38h45zM1127.5 1144l-22.5 -38h45zM1135.6 1111.4l-22.5 -38h45zM1143.6 1088.6l-22.5 -38h45zM1151.6 1111.7l-22.5 -38h45zM1159.7 1107.4l-22.5 -38h45zM1167.7 1118.9l-22.5 -38h45zM1175.7 1105l-22.5 -38h45zM1183.8 1123l-22.5 -38h45zM1191.8 1149l-22.5 -38h45zM1199.8 1146l-22.5 -38h45zM1207.9 1094l-22.5 -38h45zM1215.9 1080l-22.5 -38h45zM1223.9 1118.9l-22.5 -38h45zM1232 1138l-22.5 -38h45zM1240 1115l-22.5 -38h45zM1248 1115l-22.5 -38h45zM1256.1 1123l-22.5 -38h45zM1264.1 1123l-22.5 -38h45zM1272.1 1115l-22.5 -38h45zM1280.2 1116l-22.5 -38h45zM1288.2 1124.9l-22.5 -38h45zM1296.2 1134.6l-22.5 -38h45zM1304.3 1128l-22.5 -38h45zM1312.3 1111l-22.5 -38h45zM1320.3 1106l-22.5 -38h45zM1328.4 1110l-22.5 -38h45zM1336.4 1129.8l-22.5 -38h45zM1344.4 1109l-22.5 -38h45zM1352.5 1158l-22.5 -38h45zM1360.5 1158l-22.5 -38h45zM1368.6 1126.9l-22.5 -38h45zM1376.6 1110l-22.5 -38h45zM1384.6 1080l-22.5 -38h45zM1392.7 1088l-22.5 -38h45zM1400.7 1120l-22.5 -38h45zM1408.7 1144l-22.5 -38h45zM1416.8 1149.3l-22.5 -38h45zM1424.8 1122l-22.5 -38h45zM1432.8 1129.4l-22.5 -38h45zM1440.9 1086l-22.5 -38h45zM1448.9 1093l-22.5 -38h45zM1456.9 1124.4l-22.5 -38h45zM1465 1098.9l-22.5 -38h45zM1473 1158l-22.5 -38h45zM1481 1127.8l-22.5 -38h45zM1489.1 1071l-22.5 -38h45zM1497.1 1074l-22.5 -38h45zM1505.1 1158l-22.5 -38h45zM1513.2 1111.1l-22.5 -38h45zM1521.2 1074.6l-22.5 -38h45zM1529.2 1126.8l-22.5 -38h45zM1537.3 1095.9l-22.5 -38h45zM1545.3 1158l-22.5 -38h45zM1553.3 1124.6l-22.5 -38h45zM1561.4 1080l-22.5 -38h45zM1569.4 1086.6l-22.5 -38h45zM1577.4 1103l-22.5 -38h45zM1585.5 1133.1l-22.5 -38h45zM1593.5 1161l-22.5 -38h45zM1601.6 1095.9l-22.5 -38h45zM1609.6 1062l-22.5 -38h45zM1617.6 1128.4l-22.5 -38h45zM1625.7 1099.9l-22.5 -38h45zM1633.7 1062l-22.5 -38h45zM1641.7 1170l-22.5 -38h45zM1649.8 1117.7l-22.5 -38h45zM1657.8 1062l-22.5 -38h45zM1665.8 1103l-22.5 -38h45zM1673.9 1149.3l-22.5 -38h45zM1681.9 1127l-22.5 -38h45zM1689.9 1094l-22.5 -38h45zM1698 1094l-22.5 -38h45zM1706 1124.9l-22.5 -38h45zM1714 1098l-22.5 -38h45zM1722.1 1158l-22.5 -38h45zM1730.1 1127.7l-22.5 -38h45zM1738.1 1104.9l-22.5 -38h45zM1746.2 1062l-22.5 -38h45zM1754.2 1092l-22.5 -38h45zM1762.2 1149.3l-22.5 -38h45zM1770.3 1149.3l-22.5 -38h45zM1778.3 1127l-22.5 -38h45zM1786.3 1132l-22.5 -38h45zM1794.4 1132l-22.5 -38h45zM1802.4 1128l-22.5 -38h45zM1810.4 1112.6l-22.5 -38h45zM1818.5 1097.3l-22.5 -38h45zM1826.5 1109.3l-22.5 -38h45zM1834.6 1132.7l-22.5 -38h45zM1842.6 1144.4l-22.5 -38h45zM1850.6 1166.8l-22.5 -38h45zM1858.7 1154.5l-22.5 -38h45zM1866.7 1115l-22.5 -38h45zM1874.7 1132.8l-22.5 -38h45zM1882.8 1144l-22.5 -38h45zM1890.8 1149.6l-22.5 -38h45zM1898.8 1169l-22.5 -38h45zM1906.9 1143l-22.5 -38h45zM1914.9 1178.6l-22.5 -38h45zM1922.9 1159.3l-22.5 -38h45zM1931 1132.8l-22.5 -38h45zM1939 1178.8l-22.5 -38h45z"/>
<path fill="#f0f" d="M314.2 684l38.5 -22.3v44.6zM325.5 675l38.5 -22.3v44.6zM331.5 630l38.5 -22.3v44.6zM339.5 627l38.5 -22.3v44.6zM346.8 638.6l38.5 -22.3v44.6zM357.3 626.7l38.5 -22.3v44.6zM362.8 635.6l38.5 -22.3v44.6zM368.5 663l38.5 -22.3v44.6zM378.5 709l38.5 -22.3v44.6zM387.5 685l38.5 -22.3v44.6zM393.2 656.5l38.5 -22.3v44.6zM403 665.4l38.5 -22.3v44.6zM413.2 659.8l38.5 -22.3v44.6zM422.3 665.7l38.5 -22.3v44.6zM430.8 704.2l38.5 -22.3v44.6zM435.2 702.2l38.5 -22.3v44.6zM443.2 662.6l38.5 -22.3v44.6zM448.2 659.8l38.5 -22.3v44.6zM454.2 722.5l38.5 -22.3v44.6zM466.5 731.8l38.5 -22.3v44.6zM475.7 650.7l38.5 -22.3v44.6zM484.8 663.2l38.5 -22.3v44.6zM492.3 731.8l38.5 -22.3v44.6zM501.7 693.3l38.5 -22.3v44.6zM510.7 656.5l38.5 -22.3v44.6zM515.5 690.3l38.5 -22.3v44.6zM519.6 685l38.5 -22.3v44.6zM527.3 726.8l38.5 -22.3v44.6zM528.2 697.2l38.5 -22.3v44.6zM546.5 679.8l38.5 -22.3v44.6zM558.1 693.5l38.5 -22.3v44.6zM563.2 737.7l38.5 -22.3v44.6zM571.9 706.5l38.5 -22.3v44.6zM579.8 662.3l38.5 -22.3v44.6zM589 679.8l38.5 -22.3v44.6zM597.4 723.1l38.5 -22.3v44.6zM603.9 719.7l38.5 -22.3v44.6zM615.6 706.5l38.5 -22.3v44.6zM619.9 704.9l38.5 -22.3v44.6zM628.3 690l38.5 -22.3v44.6zM633.2 738.5l38.5 -22.3v44.6zM641.5 703.2l38.5 -22.3v44.6zM650.7 662.3l38.5 -22.3v44.6zM659 712l38.5 -22.3v44.6zM668.2 732.3l38.5 -22.3v44.6zM677.3 744.3l38.5 -22.3v44.6zM685.7 728.5l38.5 -22.3v44.6zM694.2 657.5l38.5 -22.3v44.6zM699.8 677.3l38.5 -22.3v44.6zM703.2 636l38.5 -22.3v44.6zM712.3 726.8l38.5 -22.3v44.6zM720.8 776.7l38.5 -22.3v44.6zM729.8 704l38.5 -22.3v44.6zM738.2 659.3l38.5 -22.3v44.6zM747.3 712.3l38.5 -22.3v44.6zM755.7 723.7l38.5 -22.3v44.6zM764.8 676.8l38.5 -22.3v44.6zM774 659.3l38.5 -22.3v44.6zM782.3 674l38.5 -22.3v44.6zM791.5 716.7l38.5 -22.3v44.6zM799.8 746.8l38.5 -22.3v44.6zM804.7 709.9l38.5 -22.3v44.6zM809 697.3l38.5 -22.3v44.6zM817.3 633.2l38.5 -22.3v44.6zM829 650.7l38.5 -22.3v44.6zM834.8 694.3l38.5 -22.3v44.6zM844.9 688.4l38.5 -22.3v44.6zM851.5 689l38.5 -22.3v44.6zM864 700.2l38.5 -22.3v44.6zM870.8 656.7l38.5 -22.3v44.6zM877 660.1l38.5 -22.3v44.6zM882.3 636l38.5 -22.3v44.6zM887.3 685.2l38.5 -22.3v44.6zM896.7 738.7l38.5 -22.3v44.6zM908.2 681.8l38.5 -22.3v44.6zM915.3 630.3l38.5 -22.3v44.6zM925.7 633.2l38.5 -22.3v44.6zM935.3 665.2l38.5 -22.3v44.6zM944.8 662.7l38.5 -22.3v44.6zM952.3 627.3l38.5 -22.3v44.6zM961.2 654l38.5 -22.3v44.6zM969.2 705l38.5 -22.3v44.6zM969.8 702.7l38.5 -22.3v44.6zM978.2 673.5l38.5 -22.3v44.6zM987.3 594.8l38.5 -22.3v44.6zM996.2 612.5l38.5 -22.3v44.6zM1004.8 676.7l38.5 -22.3v44.6zM1013.6 672.4l38.5 -22.3v44.6zM1022.3 645.3l38.5 -22.3v44.6zM1031.5 694.3l38.5 -22.3v44.6zM1039.8 658.5l38.5 -22.3v44.6zM1049 601l38.5 -22.3v44.6zM1057.3 645.3l38.5 -22.3v44.6zM1061.8 646.8l38.5 -22.3v44.6zM1066.3 726.7l38.5 -22.3v44.6zM1074.8 654l38.5 -22.3v44.6zM1084 609.8l38.5 -22.3v44.6zM1094.8 679l38.5 -22.3v44.6zM1101.5 750.5l38.5 -22.3v44.6zM1110.1 679.7l38.5 -22.3v44.6zM1119 645.3l38.5 -22.3v44.6zM1127.3 689l38.5 -22.3v44.6zM1136.5 717.7l38.5 -22.3v44.6zM1144.8 686.5l38.5 -22.3v44.6zM1154 706l38.5 -22.3v44.6zM1158.3 700.8l38.5 -22.3v44.6zM1163.3 768.3l38.5 -22.3v44.6zM1171.5 765.7l38.5 -22.3v44.6zM1179.8 681.8l38.5 -22.3v44.6zM1189 662.7l38.5 -22.3v44.6zM1198.2 724l38.5 -22.3v44.6zM1206.5 752.7l38.5 -22.3v44.6zM1214.5 748.7l38.5 -22.3v44.6zM1222.5 743.8l38.5 -22.3v44.6zM1230.6 739.1l38.5 -22.3v44.6zM1238.6 712.6l38.5 -22.3v44.6zM1246.6 706.7l38.5 -22.3v44.6zM1250.7 703.7l38.5 -22.3v44.6zM1262.7 709.6l38.5 -22.3v44.6zM1268.2 767.7l38.5 -22.3v44.6zM1276.5 746.8l38.5 -22.3v44.6zM1286.8 712.6l38.5 -22.3v44.6zM1294.8 706.5l38.5 -22.3v44.6zM1302.9 710.5l38.5 -22.3v44.6zM1311.5 719l38.5 -22.3v44.6zM1318.9 723.2l38.5 -22.3v44.6zM1324 737.2l38.5 -22.3v44.6zM1332.5 795.8l38.5 -22.3v44.6zM1338.5 795.5l38.5 -22.3v44.6zM1347.3 699.2l38.5 -22.3v44.6zM1355.7 656.5l38.5 -22.3v44.6zM1367.8 679.2l38.5 -22.3v44.6zM1376.5 729.8l38.5 -22.3v44.6zM1385 760l38.5 -22.3v44.6zM1391.5 770.2l38.5 -22.3v44.6zM1402.8 750.3l38.5 -22.3v44.6zM1407.3 747.6l38.5 -22.3v44.6zM1411.5 700.2l38.5 -22.3v44.6zM1420.7 662.3l38.5 -22.3v44.6zM1429.5 674l38.5 -22.3v44.6zM1438.2 747l38.5 -22.3v44.6zM1446.5 788.3l38.5 -22.3v44.6zM1455.7 703.7l38.5 -22.3v44.6zM1464.5 635l38.5 -22.3v44.6zM1471.6 639l38.5 -22.3v44.6zM1481.5 794.2l38.5 -22.3v44.6zM1491.2 706.5l38.5 -22.3v44.6zM1499.5 636l38.5 -22.3v44.6zM1503.7 713.6l38.5 -22.3v44.6zM1508.2 726.8l38.5 -22.3v44.6zM1517.3 794.2l38.5 -22.3v44.6zM1525.7 706l38.5 -22.3v44.6zM1534.8 653.7l38.5 -22.3v44.6zM1543.5 683.2l38.5 -22.3v44.6zM1552.3 706.5l38.5 -22.3v44.6zM1561.5 741l38.5 -22.3v44.6zM1569.5 783.2l38.5 -22.3v44.6zM1578.5 735.5l38.5 -22.3v44.6zM1587.3 627.3l38.5 -22.3v44.6zM1592.1 629.3l38.5 -22.3v44.6zM1596.2 648l38.5 -22.3v44.6zM1604.8 797.3l38.5 -22.3v44.6zM1613.2 814.3l38.5 -22.3v44.6zM1622.3 681.3l38.5 -22.3v44.6zM1631.5 639.3l38.5 -22.3v44.6zM1640 728.3l38.5 -22.3v44.6zM1649.2 785.5l38.5 -22.3v44.6zM1657.3 737.7l38.5 -22.3v44.6zM1666.5 694.8l38.5 -22.3v44.6zM1674.8 697.3l38.5 -22.3v44.6zM1684 726.5l38.5 -22.3v44.6zM1688.5 728.6l38.5 -22.3v44.6zM1692.8 779.7l38.5 -22.3v44.6zM1701.5 820.3l38.5 -22.3v44.6zM1710.7 726.5l38.5 -22.3v44.6zM1719 644.8l38.5 -22.3v44.6zM1727.8 690l38.5 -22.3v44.6zM1736.7 784.2l38.5 -22.3v44.6zM1744.8 787.7l38.5 -22.3v44.6zM1754.2 755.8l38.5 -22.3v44.6zM1763.5 770l38.5 -22.3v44.6zM1771.5 772.7l38.5 -22.3v44.6zM1780.8 730l38.5 -22.3v44.6zM1784.9 732l38.5 -22.3v44.6zM1789 727l38.5 -22.3v44.6zM1798.2 735.7l38.5 -22.3v44.6zM1806.2 755.2l38.5 -22.3v44.6zM1815.7 800.3l38.5 -22.3v44.6zM1827.3 819.2l38.5 -22.3v44.6zM1833.2 744.1l38.5 -22.3v44.6zM1841.5 733.2l38.5 -22.3v44.6zM1850.7 762.3l38.5 -22.3v44.6zM1857.3 761.9l38.5 -22.3v44.6zM1865.3 760.9l38.5 -22.3v44.6zM1870.7 764.3l38.5 -22.3v44.6zM1876.7 808.3l38.5 -22.3v44.6zM1888.5 808.5l38.5 -22.3v44.6zM1894.5 741l38.5 -22.3v44.6zM1906.5 726.5l38.5 -22.3v44.6zM1914.8 808.7l38.5 -22.3v44.6z"/>
</g>
<rect x="1533.5" y="36.3" width="526.8" height="485.7" fill="#fff" stroke="#000" stroke-width="3.3"/>
<g shape-rendering="crispEdges">
<path fill="#000" d="M1658 87.5h32v32h-32z"/>
<path fill="#f00" d="M1657.5 193a18 18 0 1 0 36 0a18 18 0 1 0 -36 0z"/>
<path fill="#00f" d="M1674 257.2l22.5 38h-45z"/>
<path fill="#008080" d="M1674.5 394.3l-22.5 -38h45z"/>
<path fill="#f0f" d="M1648.5 460.5l38.5 -22.3v44.6z"/>
</g>
<g class="lg">
<text x="1773.5" y="125">2 wt%</text>
<text x="1773.5" y="214.5">5 wt%</text>
<text x="1773.5" y="304" letter-spacing="1.2">11 wt%</text>
<text x="1773.5" y="393.5">15 wt%</text>
<text x="1773.5" y="483">20 wt%</text>
</g>
</svg>
</body></html>
